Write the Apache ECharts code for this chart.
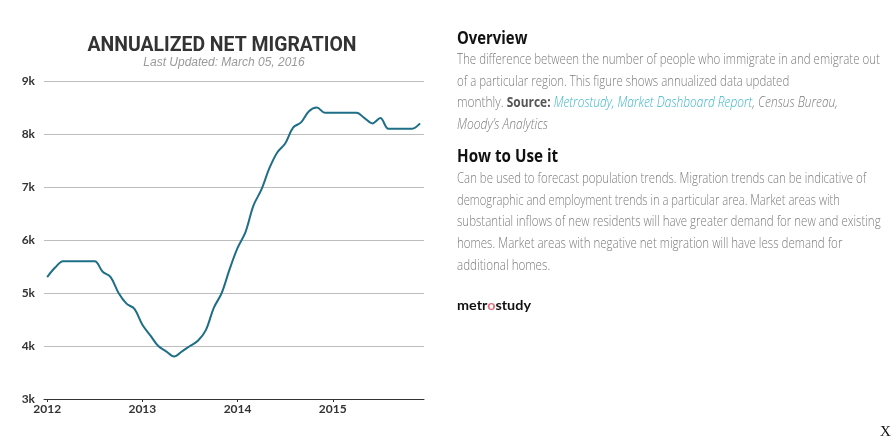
<!DOCTYPE html>
<html>
<head>
<meta charset="utf-8">
<script src="https://cdn.jsdelivr.net/npm/echarts@6/dist/echarts.min.js"></script>
<style>
  html, body { margin: 0; padding: 0; background: #fff; }
  #wrap { position: relative; width: 896px; height: 443px; overflow: hidden; }
  #chart { position: absolute; left: 0; top: 0; width: 896px; height: 443px; }
  .ln { position: absolute; left: 457px; white-space: nowrap; line-height: 1; transform-origin: 0 0;
        font-family: "Open Sans", sans-serif; }
  .hd { font-size: 17px; font-weight: 700; color: #111; }
  .bd { font-size: 15px; font-weight: 300; color: #7c7c7c; }
  .bd b { font-weight: 700; color: #555; }
  .bd i { font-style: italic; }
  .bd .lk { color: #3bb6c9; }
  .logo { font-size: 14px; font-weight: 700; color: #111; font-family: "Lato", "Open Sans", sans-serif; }
  .logo .o { color: #e0707c; }
  #x { position: absolute; left: 880px; top: 424px; font-family: "Liberation Serif", serif; font-size: 15px; line-height: 1; color: #111; }
</style>
</head>
<body>
<div id="wrap">
  <div id="chart"></div>
  <div class="ln hd" style="top:29px" data-w="70">Overview</div>
  <div class="ln bd" style="top:51px" data-w="423">The difference between the number of people who immigrate in and emigrate out</div>
  <div class="ln bd" style="top:72.7px" data-w="332">of a particular region. This figure shows annualized data updated</div>
  <div class="ln bd" style="top:94.4px" data-w="381">monthly. <b>Source:</b> <i class="lk">Metrostudy, Market Dashboard Report</i><i>, Census Bureau,</i></div>
  <div class="ln bd" style="top:116.1px" data-w="91"><i>Moody’s Analytics</i></div>
  <div class="ln hd" style="top:146.6px" data-w="101">How to Use it</div>
  <div class="ln bd" style="top:170px" data-w="409">Can be used to forecast population trends. Migration trends can be indicative of</div>
  <div class="ln bd" style="top:191.7px" data-w="383">demographic and employment trends in a particular area. Market areas with</div>
  <div class="ln bd" style="top:213.4px" data-w="424">substantial inflows of new residents will have greater demand for new and existing</div>
  <div class="ln bd" style="top:235.1px" data-w="385">homes. Market areas with negative net migration will have less demand for</div>
  <div class="ln bd" style="top:256.8px" data-w="93">additional homes.</div>
  <div class="ln logo" style="top:298px" data-w="74">metr<span class="o">o</span>study</div>
  <div id="x">X</div>
</div>
<script>
const months = [
  '2012-01','2012-02','2012-03','2012-04','2012-05','2012-06','2012-07','2012-08','2012-09','2012-10','2012-11','2012-12',
  '2013-01','2013-02','2013-03','2013-04','2013-05','2013-06','2013-07','2013-08','2013-09','2013-10','2013-11','2013-12',
  '2014-01','2014-02','2014-03','2014-04','2014-05','2014-06','2014-07','2014-08','2014-09','2014-10','2014-11','2014-12',
  '2015-01','2015-02','2015-03','2015-04','2015-05','2015-06','2015-07','2015-08','2015-09','2015-10','2015-11','2015-12'
];
const netMigration = [
  5300, 5480, 5600, 5600, 5600, 5600, 5600, 5400, 5300, 5000, 4800, 4700,
  4400, 4200, 4000, 3900, 3800, 3900, 4000, 4100, 4300, 4720, 5000, 5450,
  5850, 6150, 6650, 6950, 7350, 7650, 7820, 8120, 8220, 8430, 8500, 8400,
  8400, 8400, 8400, 8400, 8300, 8200, 8300, 8100, 8100, 8100, 8100, 8200
];
const yearTickIdx = [0, 12, 24, 36];
const yTicks = { min: 3000, max: 9000, interval: 1000 };
const titleText = 'ANNUALIZED NET MIGRATION';
const subtitleText = 'Last Updated: March 05, 2016';

function measure(font, text) {
  const c = document.createElement('canvas').getContext('2d');
  c.font = font;
  return c.measureText(text).width;
}

function draw() {
  const titleFont = 'bold 20px Roboto';
  const tScale = 269 / measure(titleFont, titleText);
  const chart = echarts.init(document.getElementById('chart'), null, { renderer: 'canvas' });
  chart.setOption({
    animation: false,
    grid: { left: 44, right: 472, top: 81, bottom: 44, containLabel: false },
    xAxis: {
      type: 'value',
      min: -0.4, max: 47.5,
      axisLine: { show: true, lineStyle: { color: '#333', width: 1 } },
      axisTick: { show: true, length: 3, lineStyle: { color: '#333' }, customValues: yearTickIdx },
      axisLabel: {
        customValues: yearTickIdx,
        margin: 4,
        color: '#333', fontFamily: 'Lato', fontWeight: 'bold', fontSize: 12,
        formatter: v => months[Math.round(v)].slice(0, 4)
      },
      splitLine: { show: false }
    },
    yAxis: {
      type: 'value',
      min: yTicks.min, max: yTicks.max, interval: yTicks.interval,
      axisLine: { show: false },
      axisTick: { show: false },
      axisLabel: {
        margin: 9, color: '#333', fontFamily: 'Lato', fontWeight: 'bold', fontSize: 12,
        padding: [4, 0, 0, 0],
        formatter: v => (v / 1000) + 'k'
      },
      splitLine: { show: true, lineStyle: { color: '#bdbdbd', width: 1 } }
    },
    series: [{
      type: 'line',
      data: netMigration.map((v, i) => [i, v]),
      smooth: 0.35,
      symbol: 'none',
      lineStyle: { color: '#1f6e87', width: 2 }
    }],
    graphic: [
      {
        type: 'text', x: 222, y: 45.5, scaleX: tScale, scaleY: 1,
        style: { text: titleText, font: titleFont, fill: '#333', align: 'center', verticalAlign: 'middle' }
      },
      {
        type: 'text', x: 224, y: 62.5,
        style: { text: subtitleText, font: 'italic 12px "Liberation Sans", Arial', fill: '#9a9a9a', align: 'center', verticalAlign: 'middle' }
      }
    ]
  });
  document.querySelectorAll('.ln').forEach(el => {
    const target = parseFloat(el.dataset.w);
    const w = el.scrollWidth;
    if (w > 0) el.style.transform = 'scaleX(' + (target / w) + ')';
  });
}
if (document.fonts && document.fonts.ready) {
  document.fonts.ready.then(draw);
} else { draw(); }
</script>
</body>
</html>
